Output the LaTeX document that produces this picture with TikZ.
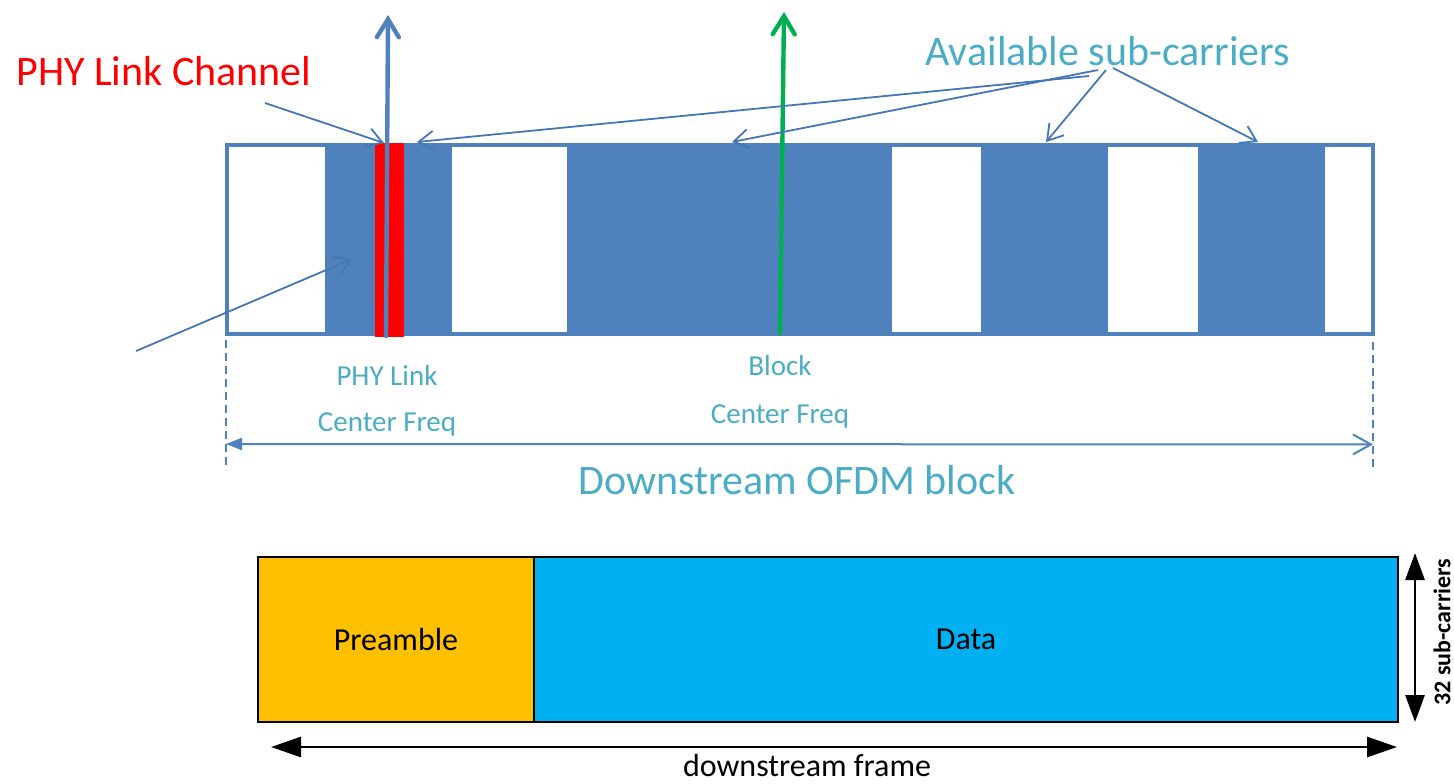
\documentclass[tikz,border=0pt]{standalone}
\usepackage{fontspec}
\setmainfont{Carlito}
\usetikzlibrary{arrows.meta,positioning,calc}

\definecolor{ofdmblue}{RGB}{79,129,189}
\definecolor{pointblue}{RGB}{70,118,180}
\definecolor{lblaqua}{RGB}{75,172,198}
\definecolor{cfgreen}{RGB}{0,176,80}
\definecolor{pregold}{RGB}{255,192,0}
\definecolor{datacyan}{RGB}{0,176,240}

\tikzset{
  pointer/.style={draw=pointblue, line width=0.9pt, -{Straight Barb[length=7.5pt,width=9.5pt]}},
  freqarrow/.style={line width=2.2pt, line cap=round, -{Straight Barb[length=9pt,width=11pt,line cap=round]}},
  freqlbl/.style={text=lblaqua, inner sep=0pt, anchor=base, font=\fontsize{14.5}{17}\selectfont},
  biglbl/.style={inner sep=0pt, anchor=base west, font=\fontsize{21}{25}\selectfont},
  extent/.style={draw=ofdmblue, line width=1pt, dash pattern=on 4pt off 2.5pt},
  framebox/.style={draw=black, line width=1pt, inner sep=0pt, minimum height=82.5pt, font=\fontsize{16}{19}\selectfont},
}

\begin{document}
\begin{tikzpicture}[x=0.5pt, y=-0.5pt]
  \useasboundingbox (0,0) rectangle (1454,783);

  % OFDM block with its unused gaps
  \fill[ofdmblue] (225,143) rectangle (1375,336);
  \foreach \a/\b in {229/325, 452/567, 892/981, 1108/1198, 1325/1371}
    \fill[white] (\a,147) rectangle (\b,332);
  \fill[red] (375,143) rectangle (404,337);

  % center frequencies
  \coordinate (phyfoot) at (386,336);
  \coordinate (phytop) at (388,15);
  \coordinate (blkfoot) at (780,333);
  \coordinate (blktop) at (784,12);
  \draw[freqarrow, ofdmblue] (phyfoot) -- (phytop);
  \draw[freqarrow, cfgreen] (blkfoot) -- (blktop);

  % labels
  \node (chan) [biglbl, text=red] at (16,85) {PHY Link Channel};
  \node (avail) [biglbl, text=lblaqua] at (925,65) {Available sub-carriers};
  \node (phylbl) [freqlbl] at (387,385) {PHY Link};
  \node (phycf) [freqlbl] at (387,431) {Center Freq};
  \node (blklbl) [freqlbl] at (780,375) {Block};
  \node (blkcf) [freqlbl] at (780,423) {Center Freq};
  \node (ofdm) [biglbl, anchor=base, text=lblaqua] at (797,494) {Downstream OFDM block};

  % pointers
  \coordinate (chanfoot) at (265,103);
  \coordinate (chantip) at (384,143);
  \coordinate (lowfoot) at (136,351);
  \coordinate (lowtip) at (352,259);
  \draw[pointer] (chanfoot) -- (chantip);
  \draw[pointer] (lowfoot) -- (lowtip);
  \coordinate (av1) at (1089,76);
  \coordinate (av2) at (1098,70);
  \coordinate (av3) at (1106,70);
  \coordinate (av4) at (1113,68);
  \coordinate (sc1) at (417,142);
  \coordinate (sc2) at (732,142);
  \coordinate (sc3) at (1046,142);
  \coordinate (sc4) at (1258,142);
  \draw[pointer] (av1) -- (sc1);
  \draw[pointer] (av2) -- (sc2);
  \draw[pointer] (av3) -- (sc3);
  \draw[pointer] (av4) -- (sc4);

  % block extent
  \coordinate (exl) at (226,340);
  \coordinate (exlb) at (226,470);
  \coordinate (exr) at (1373,342);
  \coordinate (exrb) at (1373,470);
  \draw[extent] (exl) -- (exlb);
  \draw[extent] (exr) -- (exrb);
  \draw[ofdmblue, line width=1pt, {Triangle[length=8pt,width=6pt]}-{Straight Barb[length=9pt,width=10pt]}]
    ($(exl)!0.8!(exlb)$) -- ($(exr)!0.8!(exrb)$);

  % downstream frame
  \node (pre) [framebox, fill=pregold, minimum width=138pt] at (396,639.5) {Preamble};
  \node (data) [framebox, fill=datacyan, minimum width=432pt] at (966,639.5) {Data};
  \coordinate (fl) at (271,747);
  \coordinate (fr) at (1397,747);
  \draw[line width=1.4pt, {Triangle[length=15pt,width=10pt]}-{Triangle[length=15pt,width=10pt]}] (fl) -- (fr);
  \node (frame) [inner sep=0pt, anchor=base, font=\fontsize{16}{19}\selectfont] at (807,776) {downstream frame};
  \coordinate (ft) at (1415,553);
  \coordinate (fb) at (1415,722);
  \draw[line width=1.4pt, {Triangle[length=13.5pt,width=9.5pt]}-{Triangle[length=13.5pt,width=9.5pt]}] (ft) -- (fb);
  \node (subc) [rotate=90, inner sep=0pt, font=\bfseries\fontsize{12}{14}\selectfont] at (1442,632) {32 sub-carriers};
\end{tikzpicture}
\end{document}
